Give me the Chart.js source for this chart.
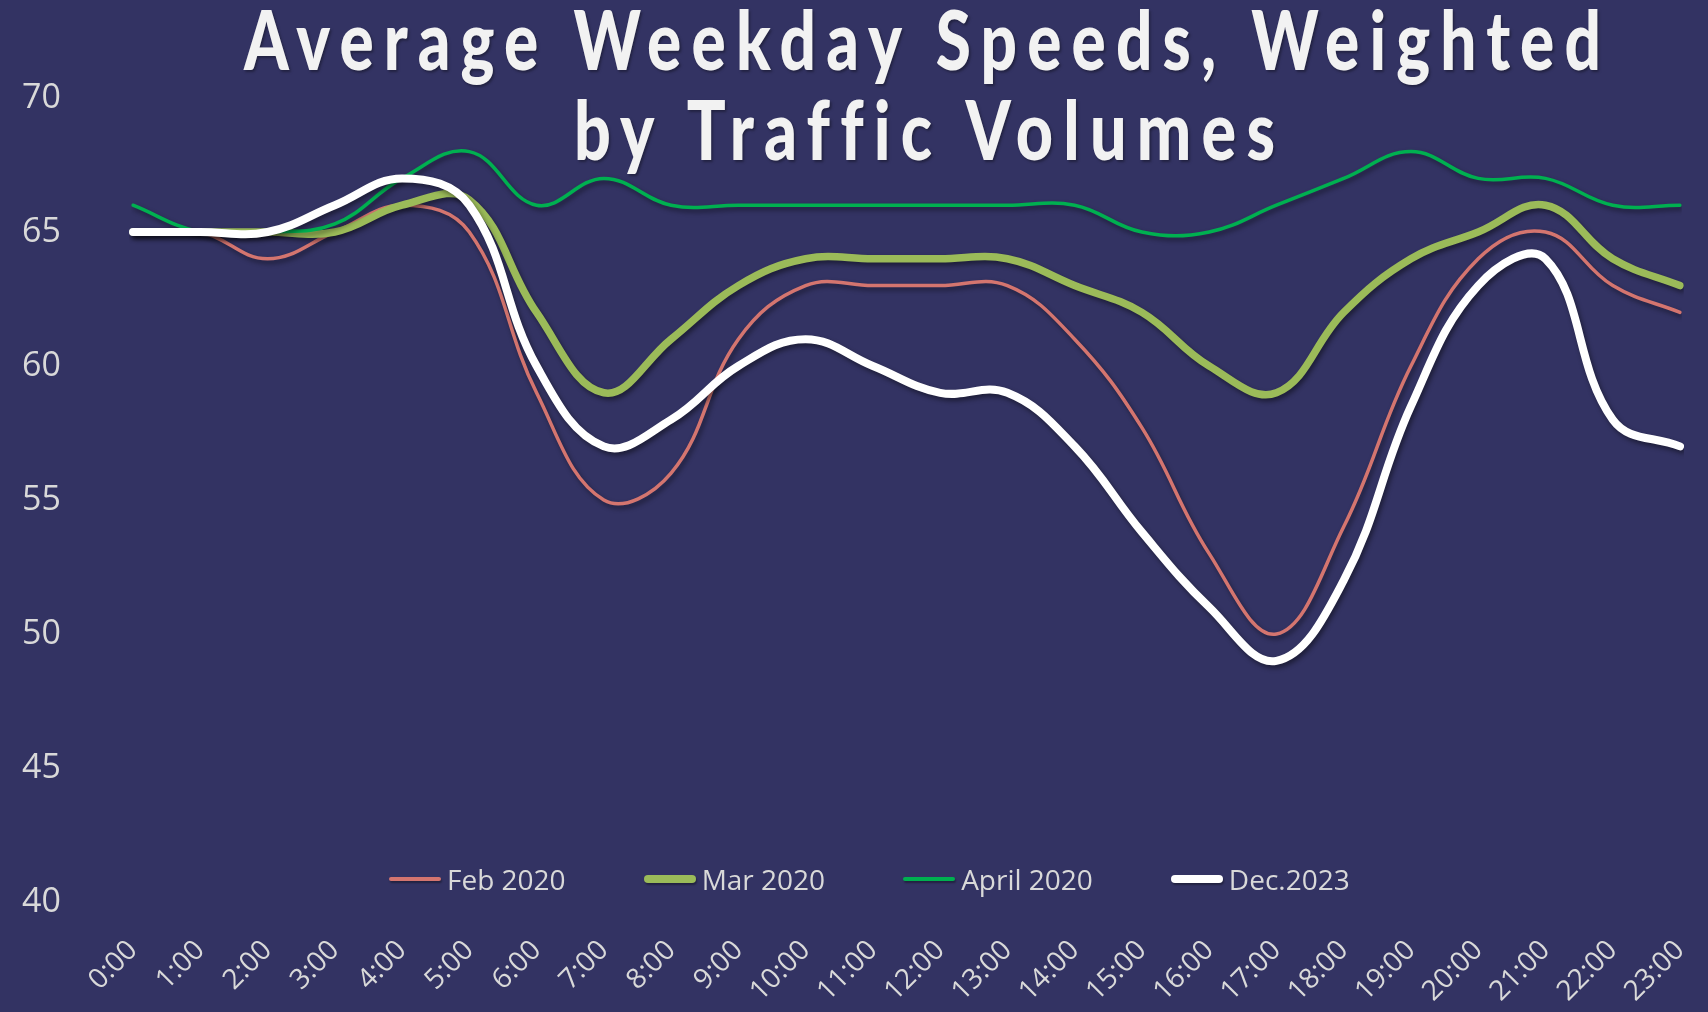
<!DOCTYPE html>
<html>
<head>
<meta charset="utf-8">
<script src="https://cdn.jsdelivr.net/npm/chart.js@4.4.1/dist/chart.umd.min.js"></script>
<style>
  html, body { margin:0; padding:0; background:#333363; width:1708px; height:1012px; overflow:hidden; }
  #wrap { position:relative; width:1708px; height:1012px; }
  #c { position:absolute; left:0; top:0; }
  .tl {
    position:absolute; left:0; white-space:nowrap;
    font-family:Lato,"DejaVu Sans",sans-serif; font-weight:900;
    font-size:82px; line-height:82px; letter-spacing:13px; color:#f2f2f2;
    text-shadow:2px 2px 3px rgba(0,0,0,0.35); pointer-events:none;
  }
  .tl span { display:inline-block; transform-origin:0 0; }
  #legend {
    position:absolute; left:389px; top:864px; display:flex; gap:78px;
    font-family:"Open Sans",sans-serif; font-size:28px; line-height:30px; color:#d9d9d9;
  }
  .item { display:flex; align-items:center; }
  .sw { width:52px; border-radius:5px; margin-right:6px; box-shadow:1px 2px 2px rgba(0,0,0,0.35); }
</style>
</head>
<body>
<div id="wrap">
  <canvas id="c" width="1708" height="1012"></canvas>
  <div class="tl" id="t1" style="top:-3px"><span>Average Weekday Speeds, Weighted</span></div>
  <div class="tl" id="t2" style="top:87px"><span>by Traffic Volumes</span></div>
  <div id="legend"></div>
</div>
<script>
const hours = ['0:00','1:00','2:00','3:00','4:00','5:00','6:00','7:00','8:00','9:00','10:00','11:00',
               '12:00','13:00','14:00','15:00','16:00','17:00','18:00','19:00','20:00','21:00','22:00','23:00'];
const feb2020 = [65,65,64,65,66,65,59,55,56,61,63,63,63,63,61,57.7,53,50,54,60,64,65,63,62];
const mar2020 = [65,65,65,65,66,66.2,62,59,61,63,64,64,64,64,63,62,60,59,62,64,65,66,64,63];
const apr2020 = [66,65,65,65.3,67,68,66,67,66,66,66,66,66,66,66,65,65,66,67,68,67,67,66,66];
const dec2023 = [65,65,65,66,67,66,60,57,58,60,61,60,59,59,57,53.8,51,49,52,58.5,63,64,58,57];
const yTicks = [40,45,50,55,60,65,70];
const seriesNames = ['Feb 2020','Mar 2020','April 2020','Dec.2023'];
const seriesColors = ['#d4756f','#9bbb59','#00b050','#ffffff'];
const seriesWidths = [3.5,7.5,3.5,8];

const seriesData = [feb2020, mar2020, apr2020, dec2023];
const datasets = seriesData.map((d,i) => ({
  label: seriesNames[i], data: d, borderColor: seriesColors[i], backgroundColor: seriesColors[i],
  borderWidth: seriesWidths[i], pointRadius: 0, tension: 0.4, fill: false,
  borderCapStyle: 'round', borderJoinStyle: 'round', order: 4 - i
}));

const shadow = {
  id: 'shadow',
  beforeDatasetDraw(chart) {
    const ctx = chart.ctx; ctx.save();
    ctx.shadowColor = 'rgba(0,0,0,0.45)'; ctx.shadowBlur = 5; ctx.shadowOffsetX = 2; ctx.shadowOffsetY = 3;
  },
  afterDatasetDraw(chart) { chart.ctx.restore(); }
};

new Chart(document.getElementById('c'), {
  type: 'line',
  data: { labels: hours, datasets },
  plugins: [shadow],
  options: {
    responsive: false, animation: false,
    layout: { padding: { top: 98, right: 28, left: 0, bottom: 0 } },
    plugins: { legend: { display: false }, title: { display: false }, tooltip: { enabled: false } },
    scales: {
      x: {
        offset: false,
        grid: { display: false }, border: { display: false },
        ticks: { color: '#d9d9d9', font: { family: 'Open Sans', size: 28 }, minRotation: 45, maxRotation: 45, padding: 24, autoSkip: false },
        afterFit(s) { s.height = 110; s.paddingRight = 0; s.paddingLeft = 0; }
      },
      y: {
        min: 40, max: 70,
        afterBuildTicks(s) { s.ticks = yTicks.map(v => ({ value: v })); },
        grid: { display: false }, border: { display: false },
        ticks: { color: '#d9d9d9', font: { family: 'Open Sans', size: 34 }, padding: 64 },
        afterFit(s) { s.width = 133; s.paddingTop = 0; s.paddingBottom = 0; }
      }
    }
  }
});

const lg = document.getElementById('legend');
seriesNames.forEach((n,i) => {
  const it = document.createElement('div'); it.className = 'item';
  const sw = document.createElement('div'); sw.className = 'sw';
  sw.style.height = seriesWidths[i] + 'px'; sw.style.background = seriesColors[i];
  const tx = document.createElement('span'); tx.textContent = n;
  it.appendChild(sw); it.appendChild(tx); lg.appendChild(it);
});

function fitTitle() {
  [['t1', 244, 1357], ['t2', 574, 701]].forEach(([id, left, target]) => {
    const el = document.getElementById(id), sp = el.firstChild;
    sp.style.transform = 'none';
    const w = sp.getBoundingClientRect().width - 13;
    sp.style.transform = 'scaleX(' + (target / w) + ')';
    el.style.left = left + 'px';
  });
}
fitTitle();
if (document.fonts) document.fonts.ready.then(fitTitle);
</script>
</body>
</html>
